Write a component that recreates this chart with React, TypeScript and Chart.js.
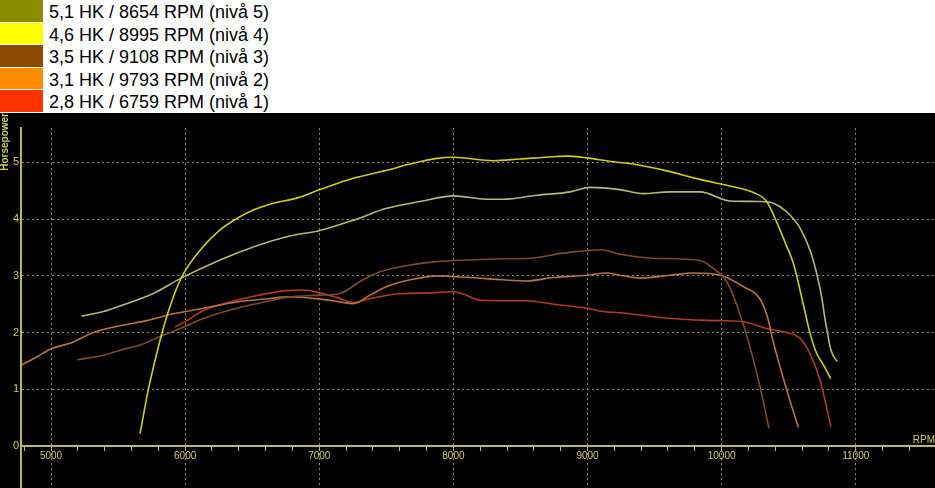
import React, { useEffect, useRef } from 'react';
import { Chart, registerables } from 'chart.js';

Chart.register(...registerables);

const FONT = '"Liberation Sans", Arial, sans-serif';

const legendLabels = [
  '5,1 HK / 8654 RPM (nivå 5)',
  '4,6 HK / 8995 RPM (nivå 4)',
  '3,5 HK / 9108 RPM (nivå 3)',
  '3,1 HK / 9793 RPM (nivå 2)',
  '2,8 HK / 6759 RPM (nivå 1)',
];
const legendColors = ['#8c8c00', '#ffff00', '#8b4a00', '#ff8c00', '#ff3300'];
const lineColors = ['#cdcd1e', '#b9b96c', '#7c4c2a', '#b8743e', '#b33a22'];

const rpmTickValues = [4800, 5000, 5200, 5400, 5600, 5800, 6000, 6200, 6400, 6600, 6800, 7000, 7200, 7400, 7600, 7800, 8000, 8200, 8400, 8600, 8800, 9000, 9200, 9400, 9600, 9800, 10000, 10200, 10400, 10600, 10800, 11000, 11200, 11400];
const rpmLabelValues = [5000, 6000, 7000, 8000, 9000, 10000, 11000];
const hpTickValues = [0, 1, 2, 3, 4, 5];

const niva5Rpm = [5664, 5725, 5788, 5833, 5887, 5970, 6111, 6260, 6385, 6508, 6657, 6832, 7006, 7254, 7503, 7677, 7876, 8000, 8298, 8497, 8745, 8845, 8994, 9193, 9342, 9590, 9839, 10087, 10236, 10336, 10410, 10480, 10535, 10609, 10659, 10709, 10759, 10813];
const niva5Hp = [0.22, 0.99, 1.63, 2.04, 2.46, 2.96, 3.45, 3.81, 4.01, 4.16, 4.28, 4.37, 4.52, 4.72, 4.86, 4.97, 5.07, 5.09, 5.03, 5.06, 5.10, 5.11, 5.08, 5.01, 4.97, 4.85, 4.70, 4.57, 4.47, 4.31, 3.95, 3.55, 3.22, 2.50, 1.99, 1.63, 1.43, 1.19];

const niva4Rpm = [5229, 5390, 5514, 5763, 5970, 6260, 6508, 6757, 7006, 7254, 7503, 7751, 8000, 8248, 8372, 8621, 8870, 9019, 9243, 9416, 9615, 9839, 10063, 10287, 10386, 10485, 10585, 10659, 10709, 10746, 10770, 10790, 10812, 10835, 10863];
const niva4Hp = [2.29, 2.37, 2.47, 2.69, 2.96, 3.28, 3.51, 3.69, 3.80, 3.98, 4.19, 4.31, 4.41, 4.35, 4.35, 4.42, 4.48, 4.56, 4.52, 4.45, 4.48, 4.48, 4.32, 4.31, 4.28, 4.13, 3.84, 3.45, 3.04, 2.63, 2.25, 1.98, 1.72, 1.58, 1.49];

const niva3Rpm = [5196, 5390, 5514, 5664, 5813, 5962, 6136, 6385, 6633, 6757, 7006, 7155, 7304, 7453, 7677, 7876, 8124, 8372, 8571, 8820, 9100, 9243, 9491, 9839, 9938, 10038, 10100, 10150, 10187, 10286, 10353];
const niva3Hp = [1.52, 1.60, 1.69, 1.78, 1.93, 2.07, 2.25, 2.43, 2.56, 2.62, 2.66, 2.69, 2.90, 3.07, 3.19, 3.25, 3.28, 3.30, 3.31, 3.40, 3.46, 3.38, 3.31, 3.27, 3.13, 2.90, 2.57, 2.22, 1.95, 1.05, 0.31];

const niva2Rpm = [4782, 4893, 5005, 5142, 5315, 5514, 5714, 5912, 6136, 6385, 6633, 6757, 7006, 7155, 7254, 7378, 7503, 7677, 7876, 8124, 8372, 8546, 8745, 8994, 9143, 9243, 9392, 9615, 9789, 9988, 10162, 10292, 10348, 10373, 10485, 10572];
const niva2Hp = [1.43, 1.57, 1.72, 1.81, 2.00, 2.12, 2.21, 2.33, 2.43, 2.54, 2.60, 2.63, 2.59, 2.54, 2.51, 2.66, 2.81, 2.93, 3.00, 2.97, 2.93, 2.91, 2.97, 3.01, 3.05, 3.01, 2.96, 3.01, 3.05, 3.01, 2.81, 2.57, 2.22, 1.95, 0.99, 0.33];

const niva1Rpm = [5925, 6012, 6136, 6260, 6508, 6757, 6881, 7006, 7130, 7254, 7378, 7577, 7826, 8000, 8074, 8199, 8546, 8745, 8994, 9118, 9243, 9491, 9740, 9988, 10162, 10336, 10485, 10585, 10659, 10734, 10815];
const niva1Hp = [2.10, 2.21, 2.39, 2.49, 2.64, 2.74, 2.75, 2.70, 2.62, 2.53, 2.60, 2.68, 2.70, 2.72, 2.68, 2.57, 2.56, 2.50, 2.43, 2.37, 2.35, 2.28, 2.23, 2.21, 2.19, 2.07, 2.00, 1.90, 1.63, 1.16, 0.34];

const seriesRpm = [niva5Rpm, niva4Rpm, niva3Rpm, niva2Rpm, niva1Rpm];
const seriesHp = [niva5Hp, niva4Hp, niva3Hp, niva2Hp, niva1Hp];

const LABEL_COLOR = '#cccc66';
const AXIS_COLOR = '#b8b85c';
const GRID_COLOR = '#8e8e44';

export default function App() {
  const canvasRef = useRef<HTMLCanvasElement>(null);

  useEffect(() => {
    const canvas = canvasRef.current;
    if (!canvas) return;
    const datasets = seriesRpm.map((rpm, i) => ({
      label: legendLabels[i],
      data: rpm.map((x, j) => ({ x, y: seriesHp[i][j] })),
      borderColor: lineColors[i],
      backgroundColor: lineColors[i],
      borderWidth: 1.6,
      pointRadius: 0,
      fill: false,
      cubicInterpolationMode: 'monotone' as const,
      xAxisID: 'x',
      yAxisID: 'y',
    }));

    const chart = new Chart(canvas, {
      type: 'line',
      data: { datasets },
      options: {
        responsive: false,
        animation: false,
        events: [],
        layout: { padding: 0 },
        plugins: {
          legend: { display: false },
          tooltip: { enabled: false },
          title: {
            display: true,
            text: 'Horsepower',
            position: 'left',
            align: 'end',
            color: LABEL_COLOR,
            font: { family: FONT, size: 10, weight: 'bold' },
            padding: { top: -1, bottom: 0 },
          },
        },
        scales: {
          x: {
            type: 'linear',
            position: { y: 0 } as any,
            min: 4776,
            max: 11591,
            afterBuildTicks: (s: any) => {
              s.ticks = rpmTickValues.map((value) => ({ value }));
            },
            grid: {
              color: (c: any) => (c.tick && rpmLabelValues.includes(c.tick.value) ? GRID_COLOR : 'transparent'),
              lineWidth: 1,
              drawTicks: true,
              tickLength: 4,
              tickColor: AXIS_COLOR,
              tickWidth: 1,
            },
            border: { display: true, color: AXIS_COLOR, width: 2, dash: [2, 3] },
            ticks: {
              autoSkip: false,
              maxRotation: 0,
              minRotation: 0,
              padding: 0,
              color: LABEL_COLOR,
              font: { family: FONT, size: 10 },
              callback: (v: any) => (rpmLabelValues.includes(Number(v)) ? String(v) : ''),
            },
            title: {
              display: true,
              text: 'RPM',
              align: 'end',
              color: LABEL_COLOR,
              font: { family: FONT, size: 10 },
              padding: { top: -27.5, bottom: 0 },
            },
          },
          xTop: {
            type: 'linear',
            position: 'top',
            display: true,
            grid: { display: false, drawTicks: false },
            border: { display: false },
            ticks: { display: false },
            afterFit: (s: any) => {
              s.height = 15;
            },
          },
          y: {
            type: 'linear',
            position: 'left',
            min: -0.74,
            max: 5.606,
            afterBuildTicks: (s: any) => {
              s.ticks = hpTickValues.map((value) => ({ value }));
            },
            grid: {
              color: (c: any) => (c.tick && c.tick.value === 0 ? 'transparent' : GRID_COLOR),
              lineWidth: 1,
              drawTicks: false,
            },
            border: { display: true, color: AXIS_COLOR, width: 2, dash: [2, 3] },
            ticks: {
              padding: 2,
              color: LABEL_COLOR,
              font: { family: FONT, size: 11 },
              callback: (v: any) => String(v),
            },
            afterFit: (s: any) => {
              s.width = 10;
              s.paddingTop = 0;
              s.paddingBottom = 0;
            },
          },
        },
      } as any,
    });
    return () => chart.destroy();
  }, []);

  return (
    <div style={{ position: 'fixed', left: 0, top: 0, width: 935, height: 488, background: '#ffffff', overflow: 'hidden' }}>
      <div style={{ height: 113, width: 935, fontFamily: FONT }}>
        {legendLabels.map((label, i) => (
          <div key={label} style={{ display: 'flex', height: 22.5, alignItems: 'flex-start' }}>
            <div style={{ width: 43, height: 21.5, background: legendColors[i], flex: '0 0 auto' }} />
            <div style={{ marginLeft: 6, fontSize: 18, lineHeight: '22px', paddingTop: 1, color: '#000', whiteSpace: 'nowrap' }}>
              {label}
            </div>
          </div>
        ))}
      </div>
      <div style={{ width: 935, height: 375, background: '#000000' }}>
        <canvas ref={canvasRef} width={935} height={375} style={{ display: 'block', width: 935, height: 375 }} />
      </div>
    </div>
  );
}
